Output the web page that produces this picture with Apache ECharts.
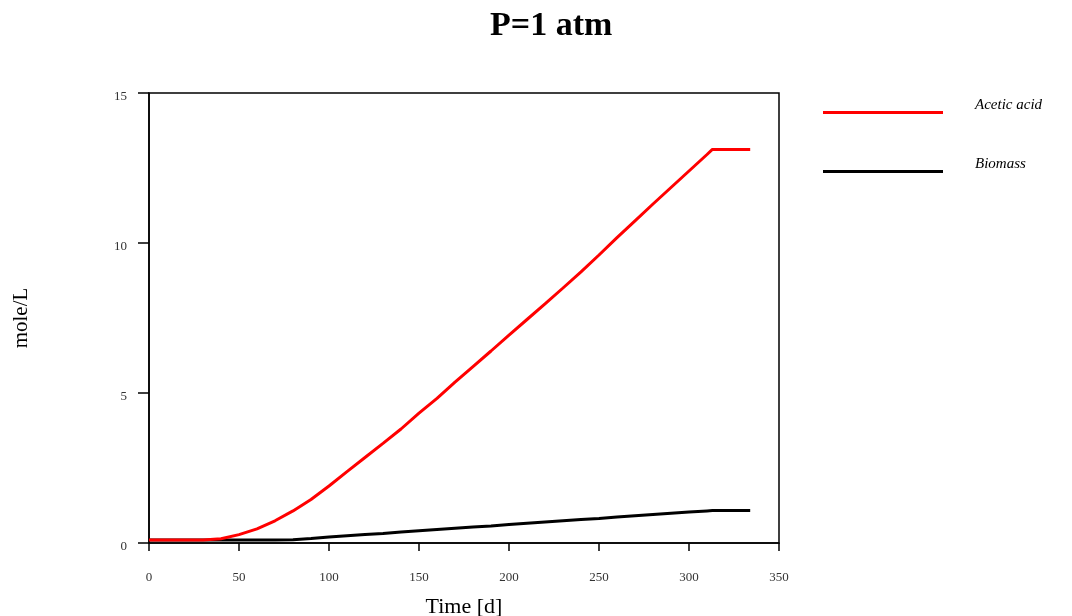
<!DOCTYPE html>
<html>
<head>
<meta charset="utf-8">
<script src="https://cdn.jsdelivr.net/npm/echarts@6/dist/echarts.min.js"></script>
<style>
html,body{margin:0;padding:0;background:#fff;}
#chart{width:1072px;height:616px;}
</style>
</head>
<body>
<div id="chart"></div>
<script>
var times = [0,10,20,30,40,50,60,70,80,90,100,110,120,130,140,150,160,170,180,190,200,210,220,230,240,250,260,270,280,290,300,310,313,320,330,334];
var aceticAcid = [0.1,0.1,0.1,0.1,0.14,0.28,0.47,0.74,1.07,1.45,1.9,2.38,2.85,3.32,3.8,4.33,4.82,5.36,5.88,6.4,6.93,7.45,7.97,8.5,9.04,9.6,10.18,10.74,11.3,11.85,12.4,12.95,13.12,13.12,13.12,13.12];
var biomass = [0.1,0.1,0.1,0.1,0.1,0.1,0.1,0.1,0.11,0.15,0.2,0.24,0.28,0.32,0.37,0.41,0.45,0.49,0.53,0.57,0.62,0.66,0.7,0.74,0.78,0.82,0.87,0.91,0.95,0.99,1.03,1.07,1.08,1.08,1.08,1.08];
var seriesNames = ['Acetic acid','Biomass'];
var titleText = 'P=1 atm';
var xName = 'Time [d]';
var yName = 'mole/L';

function pairs(xs, ys){ return xs.map(function(x,i){ return [x, ys[i]]; }); }

var chart = echarts.init(document.getElementById('chart'), null, {renderer:'canvas'});
var serif = '"Liberation Serif", "DejaVu Serif", serif';
chart.setOption({
  animation:false,
  backgroundColor:'#fff',
  title:{
    text:titleText, left:485, top:4,
    textStyle:{fontFamily:serif, fontSize:34, fontWeight:'bold', color:'#000'}
  },
  legend:{
    orient:'vertical', left:818, top:92,
    itemWidth:120, itemHeight:17, itemGap:42,
    icon:'path://M0,0 L0.01,0 L0,0.01 Z M0,14 L120,14 L120,17 L0,17 Z',
    data:seriesNames,
    textStyle:{fontFamily:serif, fontStyle:'italic', fontSize:15, color:'#000', padding:[0,0,0,27]}
  },
  grid:{left:149, right:293, top:93, bottom:73, containLabel:false, outerBoundsMode:'none',
        show:true, borderColor:'#000', borderWidth:1.5, backgroundColor:'transparent'},
  xAxis:{
    type:'value', min:0, max:350, interval:50,
    name:xName, nameLocation:'middle', nameGap:53,
    nameTextStyle:{fontFamily:serif, fontSize:22, color:'#000'},
    axisLine:{show:true, onZero:false, lineStyle:{color:'#000', width:1.5}},
    axisTick:{show:true, inside:false, length:8, lineStyle:{color:'#000', width:1.5}},
    axisLabel:{margin:28, fontFamily:serif, fontSize:13, color:'#333'},
    splitLine:{show:false}
  },
  yAxis:{
    type:'value', min:0, max:15, interval:5,
    name:yName, nameLocation:'middle', nameGap:117, nameRotate:90,
    nameTextStyle:{fontFamily:serif, fontSize:21, color:'#000'},
    axisLine:{show:true, onZero:false, lineStyle:{color:'#000', width:1.5}},
    axisTick:{show:true, inside:false, length:11, lineStyle:{color:'#000', width:1.5}},
    axisLabel:{margin:22, fontFamily:serif, fontSize:13, color:'#333', verticalAlign:'top', lineHeight:8},
    splitLine:{show:false}
  },
  series:[
    {name:seriesNames[0], type:'line', data:pairs(times, aceticAcid), showSymbol:false, smooth:false,
     lineStyle:{color:'#ff0000', width:3}, itemStyle:{color:'#ff0000'}, z:3},
    {name:seriesNames[1], type:'line', data:pairs(times, biomass), showSymbol:false, smooth:false,
     lineStyle:{color:'#000000', width:3}, itemStyle:{color:'#000000'}, z:2}
  ]
});
</script>
</body>
</html>
